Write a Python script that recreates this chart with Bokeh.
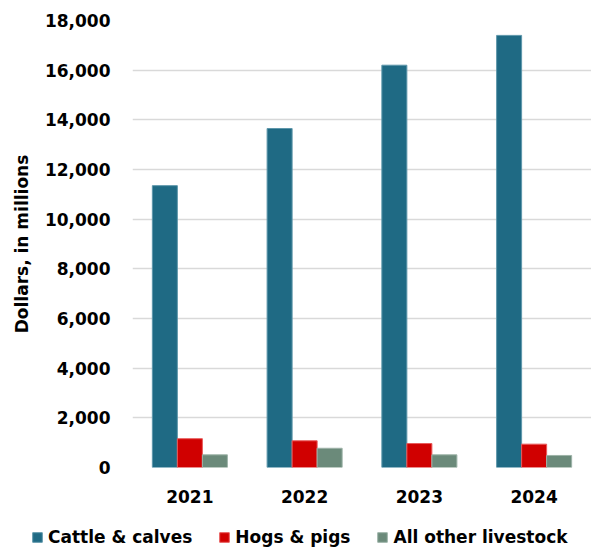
from bokeh.plotting import figure
from bokeh.models import (FactorRange, ColumnDataSource, NumeralTickFormatter,
                          FixedTicker, Legend, LegendItem)
from bokeh.layouts import column, row
from bokeh.transform import dodge
from bokeh.embed import file_html
from bokeh.resources import INLINE

years = ["2021", "2022", "2023", "2024"]
cattle = [11350, 13650, 16200, 17400]
hogs = [1160, 1075, 965, 940]
other = [510, 775, 510, 485]
series_names = ["Cattle & calves", "Hogs & pigs", "All other livestock"]
y_ticks = list(range(0, 18001, 2000))

colors = ["#1F6A84", "#D00000", "#6B8A7A"]
edges = ["#5E97AB", "#E85A5A", "#9DB3A8"]

src = ColumnDataSource(dict(years=years, cattle=cattle, hogs=hogs, other=other))

FONT = "DejaVu Sans"

p = figure(x_range=FactorRange(*years, range_padding=0), y_range=(0, 18000),
           width=591, height=510, output_backend="svg", toolbar_location=None,
           min_border_left=132, min_border_right=0, min_border_top=20,
           min_border_bottom=43)
p.outline_line_color = None

bw = 0.218
r1 = p.vbar(x=dodge("years", -bw, range=p.x_range), top="cattle", width=bw,
            source=src, fill_color=colors[0], line_color=edges[0], line_width=1)
r2 = p.vbar(x=dodge("years", 0, range=p.x_range), top="hogs", width=bw,
            source=src, fill_color=colors[1], line_color=edges[1], line_width=1)
r3 = p.vbar(x=dodge("years", bw, range=p.x_range), top="other", width=bw,
            source=src, fill_color=colors[2], line_color=edges[2], line_width=1)

# grid
p.xgrid.grid_line_color = None
p.ygrid.grid_line_color = "#D9D9D9"
p.ygrid.grid_line_width = 1.5
p.ygrid.ticker = FixedTicker(ticks=y_ticks)

# y axis
p.yaxis.ticker = FixedTicker(ticks=y_ticks)
p.yaxis.formatter = NumeralTickFormatter(format="0,0")
p.yaxis.axis_line_color = None
p.yaxis.major_tick_line_color = None
p.yaxis.minor_tick_line_color = None
p.yaxis.major_tick_out = 0
p.yaxis.major_label_standoff = 22
p.yaxis.major_label_text_font = FONT
p.yaxis.major_label_text_font_style = "bold"
p.yaxis.major_label_text_font_size = "17px"
p.yaxis.major_label_text_color = "#000000"
p.yaxis.axis_label = "Dollars, in millions"
p.yaxis.axis_label_text_font = FONT
p.yaxis.axis_label_text_font_style = "bold"
p.yaxis.axis_label_text_font_size = "17px"
p.yaxis.axis_label_text_color = "#000000"
p.yaxis.axis_label_standoff = 10

# x axis
p.xaxis.axis_line_color = None
p.xaxis.major_tick_line_color = None
p.xaxis.minor_tick_line_color = None
p.xaxis.major_tick_out = 0
p.xaxis.major_label_standoff = 22
p.xaxis.major_label_text_font = FONT
p.xaxis.major_label_text_font_style = "bold"
p.xaxis.major_label_text_font_size = "17px"
p.xaxis.major_label_text_color = "#000000"

# legend strip
lf = figure(width=591, height=38, output_backend="svg", toolbar_location=None,
            min_border=0, x_range=(0, 1), y_range=(0, 1))
lf.outline_line_color = None
lf.axis.visible = False
lf.grid.visible = False
l1 = lf.vbar(x=[-10], top=[0], width=0.1, fill_color=colors[0], line_color=edges[0])
l2 = lf.vbar(x=[-10], top=[0], width=0.1, fill_color=colors[1], line_color=edges[1])
l3 = lf.vbar(x=[-10], top=[0], width=0.1, fill_color=colors[2], line_color=edges[2])

legend = Legend(items=[LegendItem(label=series_names[0], renderers=[l1]),
                       LegendItem(label=series_names[1], renderers=[l2]),
                       LegendItem(label=series_names[2], renderers=[l3])],
                orientation="horizontal", location=(31, 1),
                padding=0, margin=0, spacing=26, label_standoff=5,
                glyph_width=12, glyph_height=12, label_height=20,
                border_line_color=None, background_fill_alpha=0,
                label_text_font=FONT, label_text_font_style="bold",
                label_text_font_size="17px", label_text_color="#000000")
lf.add_layout(legend, "center")

layout = column(p, row(lf), spacing=0)
open("out.html", "w").write(file_html(layout, INLINE))
